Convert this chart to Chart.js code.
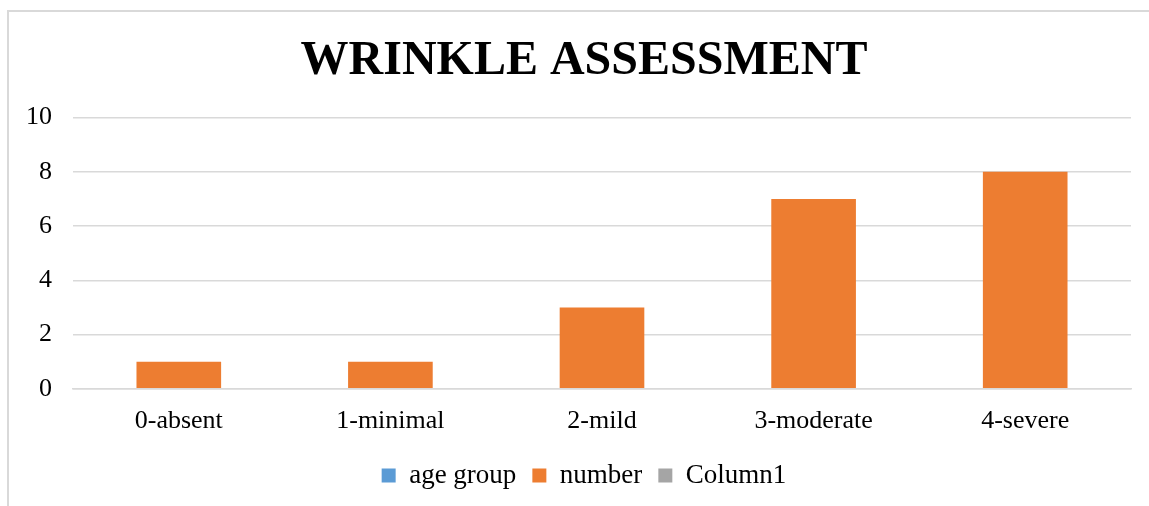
<!DOCTYPE html>
<html>
<head>
<meta charset="utf-8">
<script src="https://cdn.jsdelivr.net/npm/chart.js@4.4.1/dist/chart.umd.min.js"></script>
<style>
  html, body { margin: 0; padding: 0; background: #fff; }
  #frame { position: absolute; left: 7px; top: 10px; width: 1160px; height: 520px; border: 2px solid #d9d9d9; box-sizing: border-box; }
  #wrap { position: absolute; left: 0; top: 0; width: 1149px; height: 506px; }
</style>
</head>
<body>
<div id="frame"></div>
<div id="wrap"><canvas id="wrinkleChart" width="1149" height="506"></canvas></div>
<script>
const categories = ['0-absent', '1-minimal', '2-mild', '3-moderate', '4-severe'];
const ageGroup = [null, null, null, null, null]; // empty series, legend only
const numberValues = [1, 1, 3, 7, 8];
const column1 = [null, null, null, null, null]; // empty series, legend only
const yTicks = [0, 2, 4, 6, 8, 10];

const serif = "'Liberation Serif', 'Times New Roman', serif";

const ctx = document.getElementById('wrinkleChart').getContext('2d');
const wrinkleChart = new Chart(ctx, {
    type: 'bar',
    data: {
        labels: categories,
        datasets: [
            { label: 'age group', data: ageGroup, backgroundColor: '#5B9BD5' },
            { label: 'number', data: numberValues, backgroundColor: '#ED7D31' },
            { label: 'Column1', data: column1, backgroundColor: '#A5A5A5' }
        ]
    },
    options: {
        responsive: false,
        animation: false,
        layout: { padding: { left: 0, right: 18, top: 0, bottom: 7 } },
        datasets: {
            bar: { grouped: false, categoryPercentage: 1, barPercentage: 0.4 }
        },
        scales: {
            x: {
                grid: { display: false },
                border: { color: '#d9d9d9', width: 1.5 },
                ticks: { color: '#000', font: { family: serif, size: 26 }, padding: 9 }
            },
            y: {
                min: 0,
                max: 10,
                afterFit(scale) { scale.width = 73; },
                afterBuildTicks(scale) { scale.ticks = yTicks.map(v => ({ value: v })); },
                grid: { color: '#d9d9d9', lineWidth: 1.5, drawTicks: false },
                border: { display: false },
                ticks: { color: '#000', font: { family: serif, size: 26 }, padding: 21 }
            }
        },
        plugins: {
            title: {
                display: true,
                text: 'WRINKLE ASSESSMENT',
                color: '#000',
                font: { family: serif, size: 48, weight: 'bold' },
                padding: { top: 33, bottom: 27 }
            },
            legend: {
                position: 'bottom',
                labels: {
                    color: '#000',
                    boxWidth: 14,
                    boxHeight: 14,
                    padding: 16,
                    font: { family: serif, size: 27 }
                }
            },
            tooltip: { enabled: false }
        }
    },
    plugins: [
        {
            // title and legend are centred on the frame, which runs past the right edge
            id: 'centerOnFrame',
            afterLayout(chart) {
                if (chart.titleBlock) chart.titleBlock.left = 37;
                if (chart.legend) chart.legend.left = 37;
            }
        }
    ]
});
</script>
</body>
</html>
